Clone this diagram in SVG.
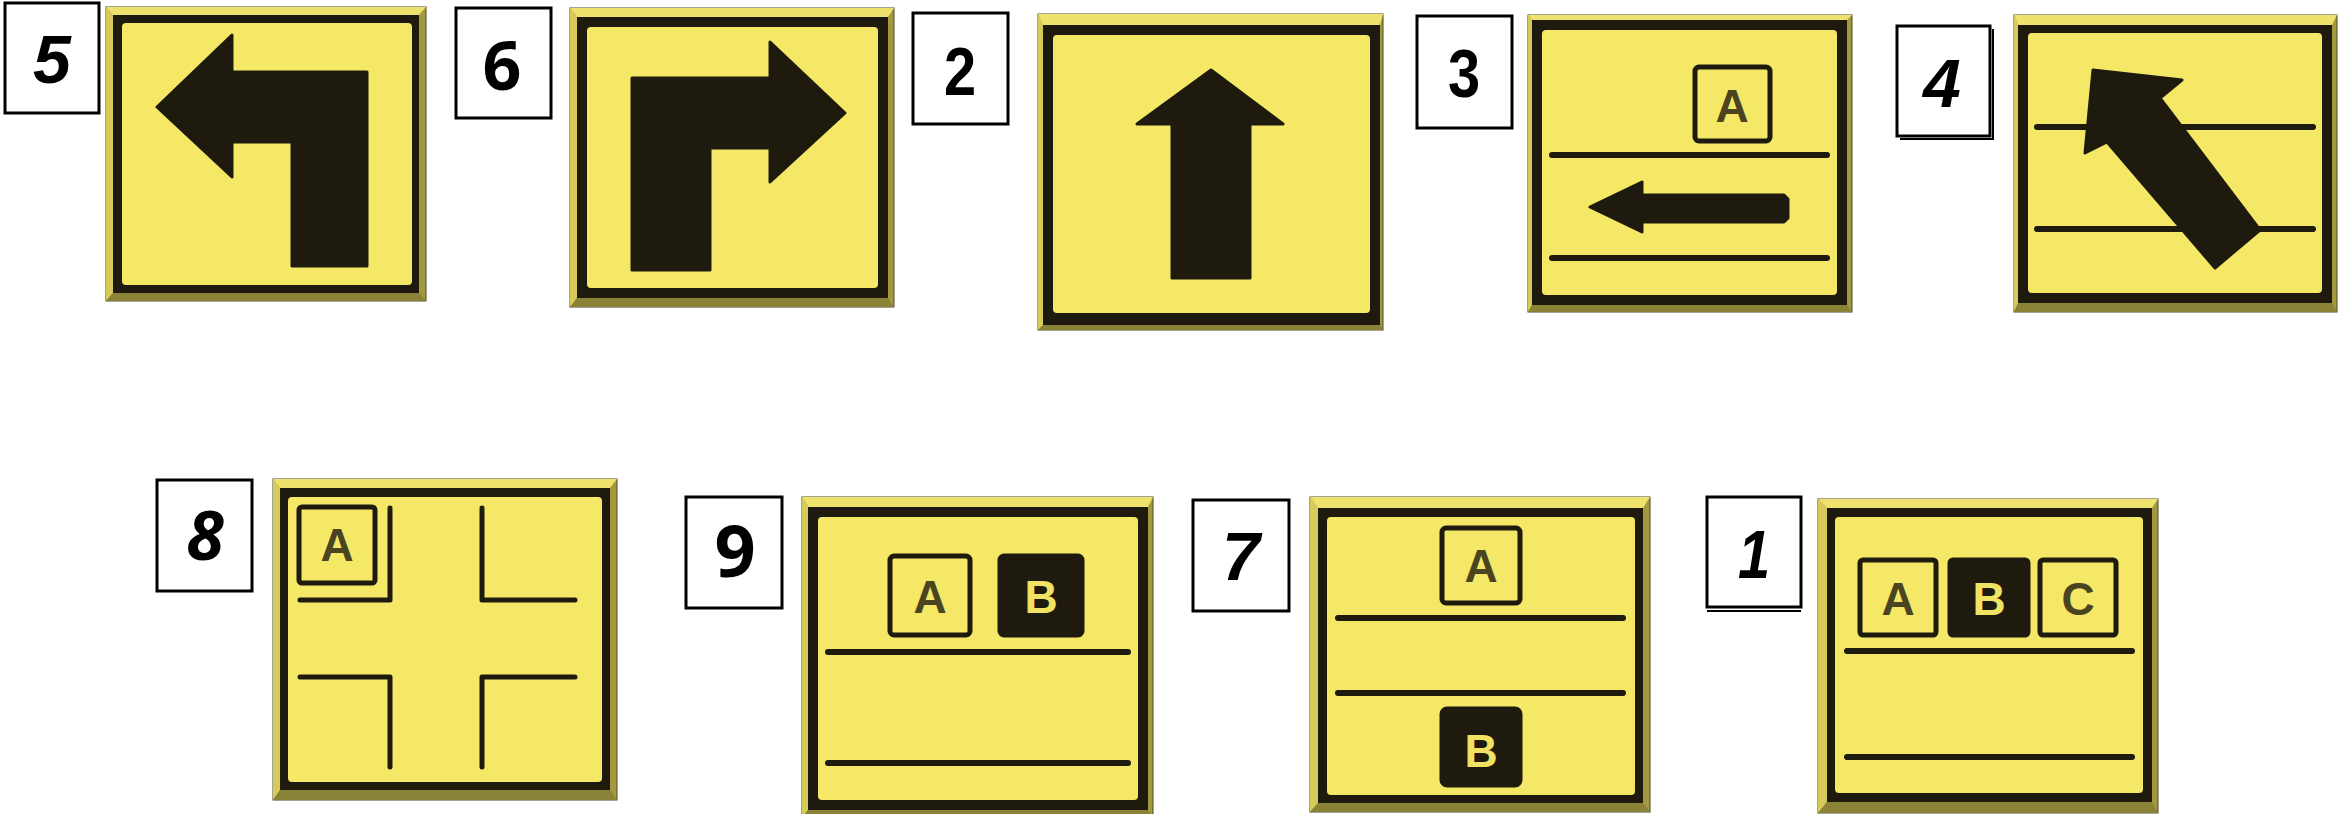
<svg xmlns="http://www.w3.org/2000/svg" width="2346" height="814" viewBox="0 0 2346 814">
<style>
.bg{fill:#ffffff}
.base{fill:#A39A40;stroke:#4a4628;stroke-width:1}
.bt{fill:#EEE26C}
.bl{fill:#D6CB58}
.bb{fill:#8A8236}
.band{fill:#1E1B0E}
.face{fill:#F5E866}
.ink{fill:#1E1B0E;stroke:#1E1B0E;stroke-width:3;stroke-linejoin:round}
.ln{stroke:#1E1B0E;stroke-width:6;stroke-linecap:round;fill:none}
.cl{stroke:#1E1B0E;stroke-width:5;stroke-linecap:round;stroke-linejoin:round;fill:none}
.box{fill:none;stroke:#1E1B0E;stroke-width:5}
.boxf{fill:#1E1B0E;stroke:#1E1B0E;stroke-width:5}
.lt{font-family:"Liberation Sans",Arial,sans-serif;font-weight:bold;font-size:46px;text-anchor:middle;fill:#4A4420}
.lw{font-family:"Liberation Sans",Arial,sans-serif;font-weight:bold;font-size:46px;text-anchor:middle;fill:#F0E262}
.lab{fill:#ffffff;stroke:#000000;stroke-width:3}
.sh{fill:none;stroke:#000000;stroke-width:2}
.num{font-family:"Liberation Sans",Arial,sans-serif;font-weight:bold;font-size:68px;text-anchor:middle;fill:#000000}
.it{font-style:italic}
.geo{font-family:"Open Sans","DejaVu Sans",sans-serif;font-weight:bold}
</style>
<rect class="bg" x="0" y="0" width="2346" height="814"/>

<g id="label5"><rect class="lab" x="5" y="3" width="94" height="110"/><text class="num it" x="52" y="83">5</text></g>
<g id="label6"><rect class="lab" x="456" y="8" width="95" height="110"/><text class="num geo" x="502" y="90">6</text></g>
<g id="label2"><rect class="lab" x="913" y="13" width="95" height="111"/><text class="num" x="960" y="95" transform="translate(960 0) scale(0.85 1) translate(-960 0)">2</text></g>
<g id="label3"><rect class="lab" x="1417" y="16" width="95" height="112"/><text class="num" x="1464" y="97" transform="translate(1464 0) scale(0.85 1) translate(-1464 0)">3</text></g>
<g id="label4"><rect class="lab" x="1897" y="26" width="93" height="110"/><polyline class="sh" points="1993,29 1993,139 1900,139"/><text class="num it" x="1942" y="107">4</text></g>
<g id="label8"><rect class="lab" x="157" y="480" width="95" height="111"/><text class="num it geo" x="205" y="560">8</text></g>
<g id="label9"><rect class="lab" x="686" y="497" width="96" height="111"/><text class="num geo" x="735" y="577" style="font-size:72px">9</text></g>
<g id="label7"><rect class="lab" x="1193" y="500" width="96" height="111"/><text class="num it" x="1241" y="580">7</text></g>
<g id="label1"><rect class="lab" x="1707" y="497" width="94" height="110"/><polyline class="sh" points="1707,611 1801,611"/><text class="num it" x="1754" y="578" transform="translate(1754 0) scale(0.85 1) translate(-1754 0)">1</text></g>

<g id="sign5">
<rect class="base" x="106" y="7" width="320" height="294"/>
<polygon class="bt" points="106,7 426,7 419,15 113,15"/>
<polygon class="bl" points="106,7 113,15 113,293 106,301"/>
<polygon class="bb" points="106,301 426,301 419,293 113,293"/>
<rect class="band" x="113" y="15" width="306" height="278"/>
<rect class="face" x="122" y="23" width="290" height="262" rx="4"/>
<polygon class="ink" points="157,107 232,35 232,72 367,72 367,266 292,266 292,142 232,142 232,177"/>
</g>

<g id="sign6">
<rect class="base" x="570" y="8" width="324" height="299"/>
<polygon class="bt" points="570,8 894,8 888,17 577,17"/>
<polygon class="bl" points="570,8 577,17 577,298 570,307"/>
<polygon class="bb" points="570,307 894,307 888,298 577,298"/>
<rect class="band" x="577" y="17" width="311" height="281"/>
<rect class="face" x="587" y="27" width="291" height="261" rx="4"/>
<polygon class="ink" points="845,113 770,42 770,78 632,78 632,270 710,270 710,148 770,148 770,182"/>
</g>

<g id="sign2">
<rect class="base" x="1038" y="14" width="345" height="316"/>
<polygon class="bt" points="1038,14 1383,14 1380,25 1043,25"/>
<polygon class="bl" points="1038,14 1043,25 1043,325 1038,330"/>
<polygon class="bb" points="1038,330 1383,330 1380,325 1043,325"/>
<rect class="band" x="1043" y="25" width="337" height="300"/>
<rect class="face" x="1053" y="35" width="317" height="278" rx="4"/>
<polygon class="ink" points="1211,70 1283,124 1250,124 1250,278 1172,278 1172,124 1137,124"/>
</g>

<g id="sign3">
<rect class="base" x="1528" y="15" width="324" height="297"/>
<polygon class="bt" points="1528,15 1852,15 1847,20 1532,20"/>
<polygon class="bl" points="1528,15 1532,20 1532,305 1528,312"/>
<polygon class="bb" points="1528,312 1852,312 1847,305 1532,305"/>
<rect class="band" x="1532" y="20" width="315" height="285"/>
<rect class="face" x="1542" y="30" width="295" height="265" rx="4"/>
<rect class="box" x="1695" y="67" width="75" height="74" rx="4"/>
<text class="lt" x="1732" y="122">A</text>
<line class="ln" x1="1552" y1="155" x2="1827" y2="155"/>
<line class="ln" x1="1552" y1="258" x2="1827" y2="258"/>
<polygon class="ink" points="1590,207 1642,182 1642,195 1784,195 1788,199 1788,218 1784,222 1642,222 1642,232"/>
</g>

<g id="sign4">
<rect class="base" x="2014" y="15" width="323" height="297"/>
<polygon class="bt" points="2014,15 2337,15 2332,25 2018,25"/>
<polygon class="bl" points="2014,15 2018,25 2018,303 2014,312"/>
<polygon class="bb" points="2014,312 2337,312 2332,303 2018,303"/>
<rect class="band" x="2018" y="25" width="314" height="278"/>
<rect class="face" x="2028" y="33" width="294" height="260" rx="4"/>
<line class="ln" x1="2037" y1="127" x2="2313" y2="127"/>
<line class="ln" x1="2037" y1="229" x2="2313" y2="229"/>
<polygon class="ink" points="2093,70 2182,80 2160,98 2260,230 2215,268 2107,142 2085,153"/>
</g>

<g id="sign8">
<rect class="base" x="273" y="479" width="344" height="321"/>
<polygon class="bt" points="273,479 617,479 610,488 280,488"/>
<polygon class="bl" points="273,479 280,488 280,790 273,800"/>
<polygon class="bb" points="273,800 617,800 610,790 280,790"/>
<rect class="band" x="280" y="488" width="330" height="302"/>
<rect class="face" x="288" y="497" width="314" height="285" rx="4"/>
<rect class="box" x="299" y="507" width="76" height="76" rx="3"/>
<text class="lt" x="337" y="561">A</text>
<polyline class="cl" points="390,508 390,600 300,600"/>
<polyline class="cl" points="482,508 482,600 575,600"/>
<polyline class="cl" points="300,677 390,677 390,767"/>
<polyline class="cl" points="575,677 482,677 482,767"/>
</g>

<g id="sign9">
<rect class="base" x="802" y="497" width="351" height="321"/>
<polygon class="bt" points="802,497 1153,497 1148,507 808,507"/>
<polygon class="bl" points="802,497 808,507 808,810 802,818"/>
<polygon class="bb" points="802,818 1153,818 1148,810 808,810"/>
<rect class="band" x="808" y="507" width="340" height="303"/>
<rect class="face" x="818" y="517" width="320" height="283" rx="4"/>
<rect class="box" x="890" y="556" width="80" height="79" rx="4"/>
<text class="lt" x="930" y="613">A</text>
<rect class="boxf" x="1000" y="556" width="82" height="79" rx="4"/>
<text class="lw" x="1041" y="613">B</text>
<line class="ln" x1="828" y1="652" x2="1128" y2="652"/>
<line class="ln" x1="828" y1="763" x2="1128" y2="763"/>
</g>

<g id="sign7">
<rect class="base" x="1310" y="497" width="340" height="315"/>
<polygon class="bt" points="1310,497 1650,497 1643,508 1318,508"/>
<polygon class="bl" points="1310,497 1318,508 1318,803 1310,812"/>
<polygon class="bb" points="1310,812 1650,812 1643,803 1318,803"/>
<rect class="band" x="1318" y="508" width="325" height="295"/>
<rect class="face" x="1327" y="517" width="308" height="278" rx="4"/>
<rect class="box" x="1442" y="528" width="78" height="75" rx="4"/>
<text class="lt" x="1481" y="582">A</text>
<line class="ln" x1="1338" y1="618" x2="1623" y2="618"/>
<line class="ln" x1="1338" y1="693" x2="1623" y2="693"/>
<rect class="boxf" x="1442" y="709" width="78" height="76" rx="5"/>
<text class="lw" x="1481" y="767">B</text>
</g>

<g id="sign1">
<rect class="base" x="1818" y="499" width="340" height="314"/>
<polygon class="bt" points="1818,499 2158,499 2152,508 1827,508"/>
<polygon class="bl" points="1818,499 1827,508 1827,802 1818,813"/>
<polygon class="bb" points="1818,813 2158,813 2152,802 1827,802"/>
<rect class="band" x="1827" y="508" width="325" height="294"/>
<rect class="face" x="1835" y="517" width="308" height="276" rx="4"/>
<rect class="box" x="1860" y="560" width="76" height="75" rx="3"/>
<text class="lt" x="1898" y="615">A</text>
<rect class="boxf" x="1950" y="560" width="78" height="75" rx="3"/>
<text class="lw" x="1989" y="615">B</text>
<rect class="box" x="2040" y="560" width="76" height="75" rx="3"/>
<text class="lt" x="2078" y="615">C</text>
<line class="ln" x1="1847" y1="651" x2="2132" y2="651"/>
<line class="ln" x1="1847" y1="757" x2="2132" y2="757"/>
</g>

<g id="connectors"></g>
</svg>
